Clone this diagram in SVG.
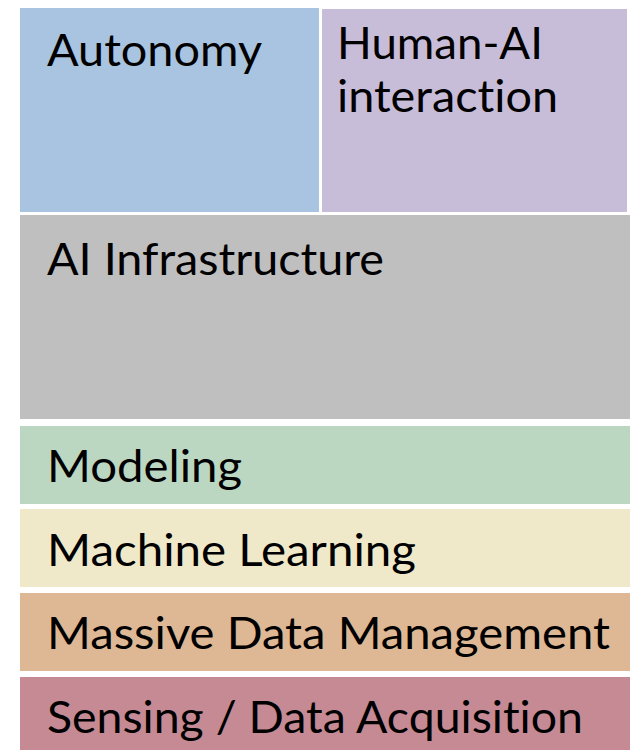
<svg xmlns="http://www.w3.org/2000/svg" width="633" height="750" viewBox="0 0 633 750">
  <style>
    .lbl { font-family: Lato, "Open Sans", "Liberation Sans", sans-serif; font-size: 44px; fill: #000;
           font-variant-ligatures: none; font-feature-settings: "liga" 0, "dlig" 0; }
  </style>
  <rect width="633" height="750" fill="#ffffff"/>
  <g id="autonomy">
    <rect x="20" y="8" width="299" height="204" fill="#a9c4e0"/>
    <text class="lbl" x="47" y="66" textLength="215" lengthAdjust="spacingAndGlyphs">Autonomy</text>
  </g>
  <g id="human-ai">
    <rect x="322" y="9" width="305" height="203" fill="#c8bdd8"/>
    <text class="lbl" x="337" y="59" textLength="206" lengthAdjust="spacingAndGlyphs">Human-AI</text>
    <text class="lbl" x="337" y="112" textLength="221" lengthAdjust="spacingAndGlyphs">interaction</text>
  </g>
  <g id="ai-infrastructure">
    <rect x="20" y="215" width="610" height="204" fill="#bfbfbf"/>
    <text class="lbl" x="47" y="275" textLength="337" lengthAdjust="spacingAndGlyphs">AI Infrastructure</text>
  </g>
  <g id="modeling">
    <rect x="20" y="426" width="610" height="78" fill="#bcd7c1"/>
    <text class="lbl" x="47" y="482" textLength="195" lengthAdjust="spacingAndGlyphs">Modeling</text>
  </g>
  <g id="machine-learning">
    <rect x="20" y="509" width="610" height="78" fill="#efe9c9"/>
    <text class="lbl" x="47" y="566" textLength="369" lengthAdjust="spacingAndGlyphs">Machine Learning</text>
  </g>
  <g id="data-management">
    <rect x="20" y="593" width="610" height="78" fill="#deb794"/>
    <text class="lbl" x="47" y="649" textLength="563" lengthAdjust="spacingAndGlyphs">Massive Data Management</text>
  </g>
  <g id="sensing">
    <rect x="20" y="677" width="610" height="73" fill="#c58a94"/>
    <text class="lbl" x="47" y="733" textLength="536" lengthAdjust="spacingAndGlyphs">Sensing / Data Acquisition</text>
  </g>
  <g id="connectors"/>
</svg>
